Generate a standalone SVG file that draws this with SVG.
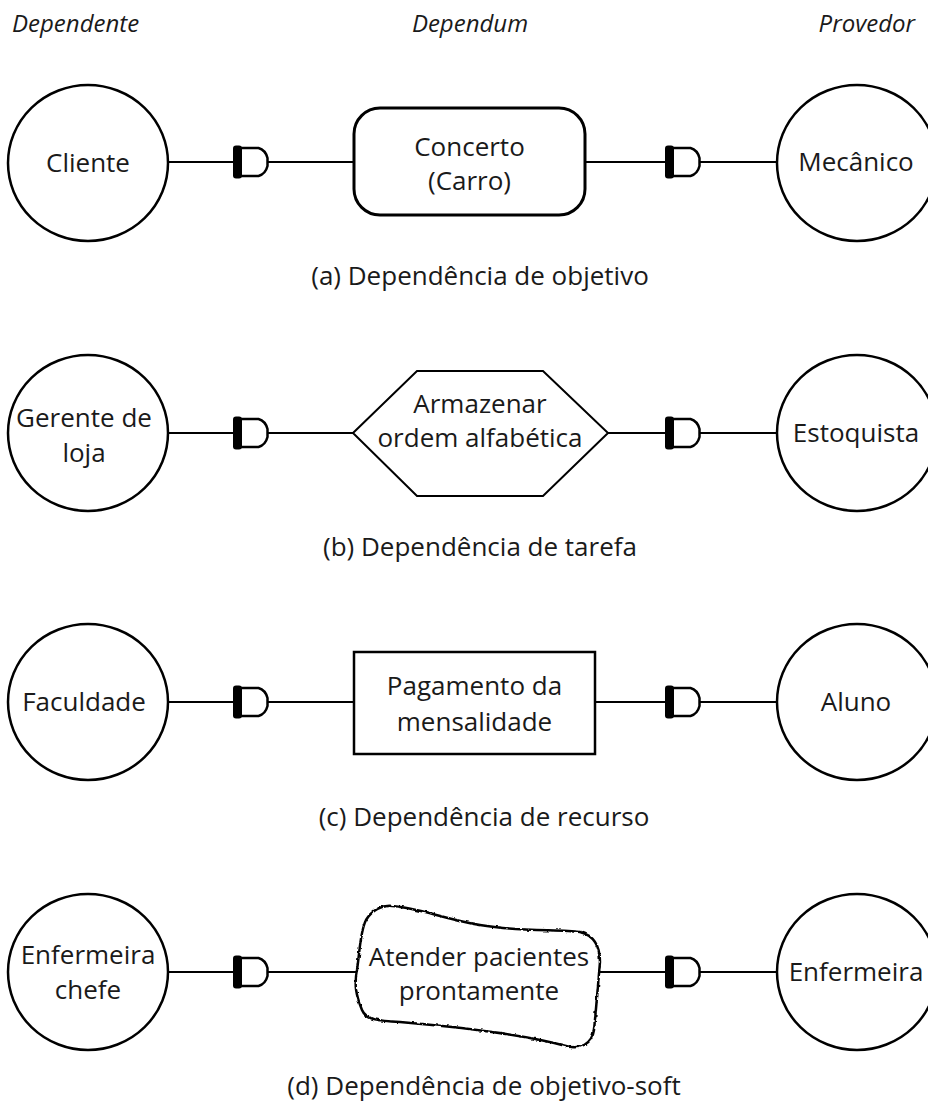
<svg xmlns="http://www.w3.org/2000/svg" width="928" height="1106" viewBox="0 0 928 1106">
<style>
.bg{fill:#fff}
.shape{fill:#fff;stroke:#000;stroke-width:2.5}
.link{stroke:#000;stroke-width:2;fill:none}
.lbl{font-family:"Open Sans","Noto Sans",sans-serif;font-size:26px;fill:#1a1a1a;text-anchor:middle}
.cap{font-family:"Open Sans","Noto Sans",sans-serif;font-size:26px;fill:#1a1a1a;text-anchor:middle}
.hdr{font-family:"Open Sans","Noto Sans",sans-serif;font-size:24px;font-style:italic;fill:#1a1a1a}
.dbar{fill:#000}
.dcap{fill:#fff;stroke:#000;stroke-width:2.5;stroke-linejoin:round}
</style>
<defs>
<g id="dsym">
<path class="dcap" d="M0,-14 H21 Q28,-12 30,-4 V4 Q28,12 21,14 H0 Z"/>
<rect class="dbar" x="-4.5" y="-16.5" width="9" height="33" rx="3"/>
</g>
<filter id="rough" x="-5%" y="-5%" width="110%" height="110%">
<feTurbulence type="fractalNoise" baseFrequency="0.2" numOctaves="2" seed="3" result="n"/>
<feDisplacementMap in="SourceGraphic" in2="n" scale="3" xChannelSelector="R" yChannelSelector="G"/>
</filter>
</defs>
<rect class="bg" x="0" y="0" width="928" height="1106"/>

<g id="headers">
<text class="hdr" x="12" y="32">Dependente</text>
<text class="hdr" x="470" y="32" text-anchor="middle">Dependum</text>
<text class="hdr" x="915" y="32" text-anchor="end">Provedor</text>
</g>

<g id="connectors">
<line class="link" x1="168" y1="162" x2="354" y2="162"/>
<line class="link" x1="585" y1="162" x2="777" y2="162"/>
<line class="link" x1="168" y1="433" x2="353" y2="433"/>
<line class="link" x1="608" y1="433" x2="777" y2="433"/>
<line class="link" x1="168" y1="702" x2="354" y2="702"/>
<line class="link" x1="595" y1="702" x2="777" y2="702"/>
<line class="link" x1="168" y1="972" x2="357" y2="972"/>
<line class="link" x1="600" y1="972" x2="777" y2="972"/>
<use href="#dsym" x="237.5" y="162"/>
<use href="#dsym" x="669.5" y="162"/>
<use href="#dsym" x="237.5" y="433"/>
<use href="#dsym" x="669.5" y="433"/>
<use href="#dsym" x="237.5" y="702"/>
<use href="#dsym" x="669.5" y="702"/>
<use href="#dsym" x="237.5" y="972"/>
<use href="#dsym" x="669.5" y="972"/>
</g>

<g id="cliente">
<ellipse class="shape" cx="88" cy="163" rx="80" ry="78"/>
<text class="lbl" x="88" y="172">Cliente</text>
</g>
<g id="concerto">
<rect class="shape" x="354" y="108" width="231" height="107" rx="26" style="stroke-width:3"/>
<text class="lbl" x="469.5" y="156">Concerto</text>
<text class="lbl" x="469.5" y="190">(Carro)</text>
</g>
<g id="mecanico">
<ellipse class="shape" cx="857" cy="163" rx="80" ry="78"/>
<text class="lbl" x="856" y="171">Mecânico</text>
</g>
<text class="cap" x="480" y="285">(a) Dependência de objetivo</text>

<g id="gerente">
<ellipse class="shape" cx="88" cy="433" rx="80" ry="78"/>
<text class="lbl" x="84" y="427">Gerente de</text>
<text class="lbl" x="84" y="462">loja</text>
</g>
<g id="armazenar">
<polygon class="shape" points="353,433 417,371 543,371 608,433 543,496 417,496" style="stroke-width:2"/>
<text class="lbl" x="480" y="413">Armazenar</text>
<text class="lbl" x="480" y="447">ordem alfabética</text>
</g>
<g id="estoquista">
<ellipse class="shape" cx="857" cy="433" rx="80" ry="78"/>
<text class="lbl" x="856" y="442">Estoquista</text>
</g>
<text class="cap" x="480" y="556">(b) Dependência de tarefa</text>

<g id="faculdade">
<ellipse class="shape" cx="88" cy="702" rx="80" ry="78"/>
<text class="lbl" x="84" y="711">Faculdade</text>
</g>
<g id="pagamento">
<rect class="shape" x="354" y="652" width="241" height="102"/>
<text class="lbl" x="474.5" y="695">Pagamento da</text>
<text class="lbl" x="474.5" y="731">mensalidade</text>
</g>
<g id="aluno">
<ellipse class="shape" cx="857" cy="702" rx="80" ry="78"/>
<text class="lbl" x="856" y="711">Aluno</text>
</g>
<text class="cap" x="484" y="826">(c) Dependência de recurso</text>

<g id="enfermeira-chefe">
<ellipse class="shape" cx="88" cy="972" rx="80" ry="78"/>
<text class="lbl" x="88" y="964">Enfermeira</text>
<text class="lbl" x="88" y="999">chefe</text>
</g>
<g id="atender">
<path class="shape" filter="url(#rough)" d="M392,906 C420,908 440,918 480,925 C520,932 560,929 580,932 C596,936 600,948 600,962 C598,985 596,1010 594,1030 C592,1044 580,1050 566,1046 C530,1036 470,1028 400,1022 C380,1021 366,1020 362,1010 C356,995 354,985 357,970 C360,950 360,932 366,920 C372,910 382,905 392,906 Z"/>
<text class="lbl" x="479" y="966">Atender pacientes</text>
<text class="lbl" x="479" y="1000">prontamente</text>
</g>
<g id="enfermeira">
<ellipse class="shape" cx="857" cy="972" rx="80" ry="78"/>
<text class="lbl" x="856" y="981">Enfermeira</text>
</g>
<text class="cap" x="484" y="1095">(d) Dependência de objetivo-soft</text>
</svg>
